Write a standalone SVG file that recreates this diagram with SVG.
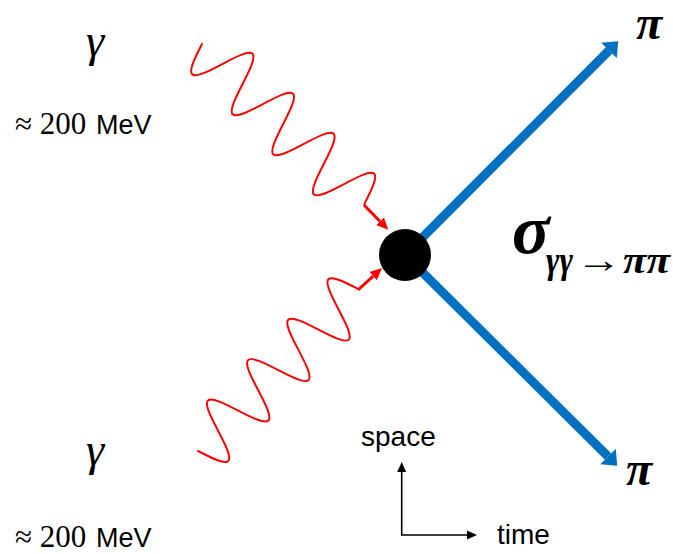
<svg xmlns="http://www.w3.org/2000/svg" width="673" height="554" viewBox="0 0 673 554">
<style>
.wave{fill:none;stroke:#FF0000;stroke-width:2;stroke-linecap:round}
.stub{fill:none;stroke:#FF0000;stroke-width:3}
.pion{fill:none;stroke:#0070C0;stroke-width:9}
.axis{fill:none;stroke:#000;stroke-width:1.6}
.gam{font-family:"Liberation Serif",serif;font-style:italic;font-size:46px;fill:#000}
.num{font-family:"Liberation Serif","Times New Roman",serif;font-size:31px;fill:#000}
.mev{font-family:"Liberation Sans",sans-serif;font-size:27px;fill:#000}
.bi{font-family:"Liberation Serif",serif;font-style:italic;font-weight:bold;fill:#000}
.lab{font-family:"Liberation Sans",Arial,sans-serif;font-size:28px;fill:#000}
</style>
<defs>
<path id="wv" d="M0,0 c4.65,14.6 9.09,28.5 14.25,28.5 c5.16,0 9.6,-13.9 14.25,-28.5 c4.65,-14.6 9.09,-28.5 14.25,-28.5 c5.16,0 9.6,13.9 14.25,28.5 c4.65,14.6 9.09,28.5 14.25,28.5 c5.16,0 9.6,-13.9 14.25,-28.5 c4.65,-14.6 9.09,-28.5 14.25,-28.5 c5.16,0 9.6,13.9 14.25,28.5 c4.65,14.6 9.09,28.5 14.25,28.5 c5.16,0 9.6,-13.9 14.25,-28.5 c4.65,-14.6 9.09,-28.5 14.25,-28.5 c5.16,0 9.6,13.9 14.25,28.5 c4.65,14.6 9.09,28.5 14.25,28.5 c5.16,0 9.6,-13.9 14.25,-28.5 c4.65,-14.6 9.09,-28.5 14.25,-28.5 c5.16,0 9.6,13.9 14.25,28.5"/>
<marker id="mb" markerUnits="userSpaceOnUse" viewBox="0 -12 14 24" refX="0" refY="0" markerWidth="14" markerHeight="24" orient="auto"><path d="M0,-11 L13,0 L0,11 z" fill="#0070C0"/></marker>
<marker id="mr" markerUnits="userSpaceOnUse" viewBox="0 -6 13 12" refX="0" refY="0" markerWidth="13" markerHeight="12" orient="auto"><path d="M0,-5.5 L12,0 L0,5.5 z" fill="#FF0000"/></marker>
<marker id="mk" markerUnits="userSpaceOnUse" viewBox="0 -5 11 10" refX="0" refY="0" markerWidth="11" markerHeight="10" orient="auto"><path d="M0,-4.5 L10,0 L0,4.5 z" fill="#000"/></marker>
</defs>
<g id="connectors">
<g id="photon-top">
<use href="#wv" class="wave" transform="translate(202,44) rotate(44.6)"/>
<line class="stub" x1="364" y1="205" x2="379.9" y2="221.2" marker-end="url(#mr)"/>
</g>
<g id="photon-bottom">
<use href="#wv" class="wave" transform="translate(198,451) rotate(-45.2)"/>
<line class="stub" x1="358" y1="290" x2="373.2" y2="276.1" marker-end="url(#mr)"/>
</g>
<line id="pion-top" class="pion" x1="405" y1="255" x2="609" y2="50.5" marker-end="url(#mb)"/>
<line id="pion-bottom" class="pion" x1="405" y1="255" x2="608" y2="456.5" marker-end="url(#mb)"/>
</g>
<g id="vertex"><circle cx="405" cy="255" r="26" fill="#000"/></g>
<g id="label-gamma-top">
<text class="gam" x="95" y="56" text-anchor="middle">γ</text>
<text class="num" x="15" y="134">≈ 200</text>
<text class="mev" x="96" y="134">MeV</text>
</g>
<g id="label-gamma-bottom">
<text class="gam" x="95" y="465" text-anchor="middle">γ</text>
<text class="num" x="15" y="547">≈ 200</text>
<text class="mev" x="96" y="547">MeV</text>
</g>
<g id="label-pi-top"><text class="bi" x="636" y="39" font-size="48">π</text></g>
<g id="label-pi-bottom"><text class="bi" x="626" y="485" font-size="48">π</text></g>
<g id="label-sigma">
<text class="bi" x="512" y="253" font-size="70">σ</text>
<text class="bi" x="546" y="273" font-size="38" textLength="27" lengthAdjust="spacingAndGlyphs">γγ</text>
<text class="bi" x="576" y="272" font-size="36" textLength="46" lengthAdjust="spacingAndGlyphs">→</text>
<text class="bi" x="623" y="273" font-size="38" textLength="47" lengthAdjust="spacingAndGlyphs">ππ</text>
</g>
<g id="axes">
<line class="axis" x1="401.7" y1="535" x2="401.7" y2="472" marker-end="url(#mk)"/>
<line class="axis" x1="401" y1="535" x2="467" y2="535" marker-end="url(#mk)"/>
<text class="lab" x="361" y="446">space</text>
<text class="lab" x="497" y="544">time</text>
</g>
</svg>
